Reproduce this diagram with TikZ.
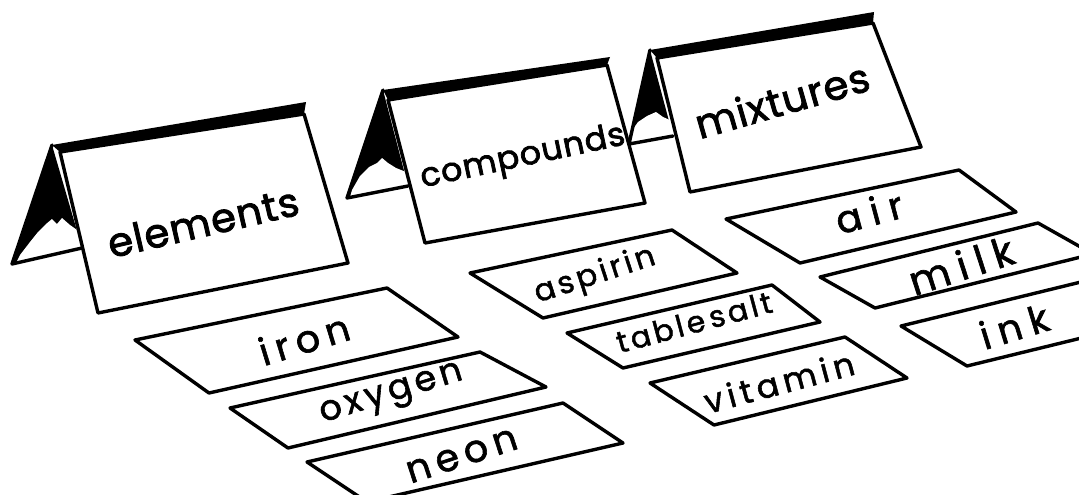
\documentclass[tikz,border=0pt]{standalone}
\usepackage{fontspec}
\setmainfont{Poppins}
\usepackage{tikz}
\tikzset{
	pen/.style={line width=3.4pt,line join=round,line cap=round},
	frontface/.style={pen,fill=white},
	slip/.style={pen,fill=white},
	tentword/.style={inner sep=0pt,font=\fontsize{#1}{#1}\selectfont\addfontfeatures{FakeBold=2.2,LetterSpace=3}},
	slipword/.style 2 args={inner sep=0pt,font=\fontsize{#1}{#1}\selectfont\addfontfeatures{FakeBold=1.6,LetterSpace=#2}}
}

\begin{document}
\begin{tikzpicture}[x=1pt,y=-1pt]
		\useasboundingbox (0,0) rectangle (1079,495);
		\clip (0,0) rectangle (1079,495);
		% tent card: mixtures
		\fill[black] (650,50) -- (629,144) -- (673,136) -- cycle;
		\fill[white] (631,132) -- (638,122) -- (647,116) -- (656,112) -- (663,117) -- (672,121) -- (675,137) -- (631,143) -- cycle;
		\draw[pen] (650,50) -- (629,144) -- (673,136);
		\fill[black] (650,50) -- (874,12) -- (873,23) -- (657,58) -- cycle;
		\filldraw[frontface] (657,58) -- (873,23) -- (921,147) -- (690,192) -- cycle;
		\node[tentword=40,rotate=16] (mixtures) at (782,100) {mixtures};
		% tent card: compounds
		\fill[black] (383,90) -- (347,198) -- (408,186) -- cycle;
		\fill[white] (352,190) -- (360,176) -- (369,167) -- (377,163) -- (382,158) -- (388,163) -- (396,168) -- (406,172) -- (409,187) -- (350,197) -- cycle;
		\draw[pen] (383,90) -- (347,198) -- (408,186);
		\fill[black] (383,90) -- (610,57) -- (607,65) -- (388,100) -- cycle;
		\filldraw[frontface] (388,100) -- (607,65) -- (645,203) -- (425,243) -- cycle;
		\node[tentword=33,rotate=12] (compounds) at (523,158) {compounds};
		% tent card: elements
		\fill[black] (52,145) -- (12,264) -- (82,248) -- cycle;
		\fill[white] (20,255) -- (30,242) -- (38,232) -- (46,224) -- (52,219) -- (57,224) -- (62,218) -- (70,225) -- (80,232) -- (84,249) -- (16,263) -- cycle;
		\draw[pen] (52,145) -- (12,264) -- (82,248);
		\fill[black] (52,145) -- (306,102) -- (304,114) -- (60,152) -- cycle;
		\filldraw[frontface] (60,152) -- (304,114) -- (348,263) -- (98,313) -- cycle;
		\node[tentword=40,rotate=13] (elements) at (203,222) {elements};
		% flat slips
		\foreach \a/\b/\c/\d in {
			{(135,340)}/{(387,288)}/{(458,337)}/{(209,393)},
			{(230,408)}/{(480,352)}/{(546,387)}/{(288,448)},
			{(307,462)}/{(563,403)}/{(623,443)}/{(367,502)},
			{(470,273)}/{(672,230)}/{(737,273)}/{(543,318)},
			{(567,333)}/{(772,285)}/{(820,322)}/{(623,368)},
			{(650,383)}/{(845,337)}/{(907,378)}/{(714,425)},
			{(726,219)}/{(959,170)}/{(1016,212)}/{(800,263)},
			{(820,277)}/{(1038,223)}/{(1093,254)}/{(875,308)},
			{(901,326)}/{(1130,270)}/{(1196,310)}/{(967,366)}}
			\filldraw[slip] \a -- \b -- \c -- \d -- cycle;
		\node[slipword={38}{18},rotate=17] (iron) at (304,339) {iron};
		\node[slipword={35}{12},rotate=17] (oxygen) at (392,396) {oxygen};
		\node[slipword={38}{16},rotate=18] (neon) at (462,456) {neon};
		\node[slipword={31}{11},rotate=18] (aspirin) at (595,276) {aspirin};
		\node[slipword={30}{11},rotate=15] (tablesalt) at (694,322) {table\,salt};
		\node[slipword={33}{15},rotate=15] (vitamin) at (779,382) {vitamin};
		\node[slipword={38}{25},rotate=15] (air) at (869,212) {air};
		\node[slipword={40}{22},rotate=18] (milk) at (961,265) {milk};
		\node[slipword={38}{22},rotate=17] (ink) at (1014,326) {ink};
	\end{tikzpicture}
\end{document}
